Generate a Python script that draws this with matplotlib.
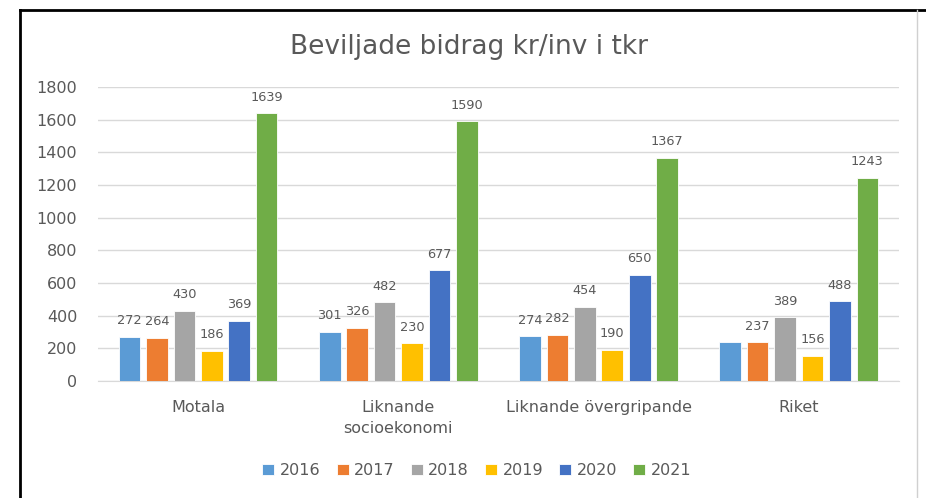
import matplotlib.pyplot as plt
import numpy as np
from matplotlib.lines import Line2D

# data
categories = ["Motala", "Liknande\nsocioekonomi", "Liknande övergripande", "Riket"]
years = ["2016", "2017", "2018", "2019", "2020", "2021"]
v2016 = [272, 301, 274, 237]
v2017 = [264, 326, 282, 237]
v2018 = [430, 482, 454, 389]
v2019 = [186, 230, 190, 156]
v2020 = [369, 677, 650, 488]
v2021 = [1639, 1590, 1367, 1243]
series = [v2016, v2017, v2018, v2019, v2020, v2021]
colors = ["#5B9BD5", "#ED7D31", "#A5A5A5", "#FFC000", "#4472C4", "#70AD47"]
# Riket 2016 has no label in the original
hidden_labels = [(0, 3)]

txt = "#595959"
plt.rcParams["font.family"] = ["DejaVu Sans"]

fig = plt.figure(figsize=(9.26, 4.98), dpi=100)
ax = fig.add_axes([0.1058, 0.2349, 0.865, 0.5904])

x = np.arange(len(categories))
slot = 0.137
width = 0.108
for i, (vals, col, yr) in enumerate(zip(series, colors, years)):
    pos = x + (i - 2.5) * slot
    bars = ax.bar(pos, vals, width, color=col, edgecolor="white", linewidth=0.6,
                  label=yr, zorder=3)
    for j, (b, v) in enumerate(zip(bars, vals)):
        if (i, j) in hidden_labels:
            continue
        ax.annotate(str(v), (b.get_x() + b.get_width() / 2, v),
                    xytext=(0, 7), textcoords="offset points",
                    ha="center", va="bottom", fontsize=9.3, color=txt)

ax.set_xlim(-0.5, len(categories) - 0.5)
ax.set_ylim(0, 1800)
ax.set_yticks(range(0, 1801, 200))
ax.set_xticks(x)
ax.set_xticklabels(categories, fontsize=11.5, color=txt, linespacing=1.5)
ax.tick_params(axis="x", length=0, pad=14)
ax.tick_params(axis="y", length=0, pad=15, labelsize=11.5, labelcolor=txt)
ax.grid(axis="y", color="#D9D9D9", linewidth=1, zorder=0)
for s in ["top", "right", "left"]:
    ax.spines[s].set_visible(False)
ax.spines["bottom"].set_color("#D9D9D9")

fig.text(0.506, 0.906, "Beviljade bidrag kr/inv i tkr", fontsize=19, color=txt,
         ha="center", va="center")

leg = fig.legend(loc="center", bbox_to_anchor=(0.515, 0.055), ncol=6, frameon=False,
                 fontsize=11.5, handlelength=0.75, handleheight=0.75,
                 handletextpad=0.35, columnspacing=1.0)
for t in leg.get_texts():
    t.set_color(txt)

# outer frame of the screenshot
fig.add_artist(Line2D([0.0216, 1.0], [0.98, 0.98], color="black", lw=2.0))
fig.add_artist(Line2D([0.0216, 0.0216], [0.0, 0.98], color="black", lw=2.0))
fig.add_artist(Line2D([0.990, 0.990], [0.0, 0.98], color="#D0D0D0", lw=1.0))

fig.savefig("out.png", dpi=100)
